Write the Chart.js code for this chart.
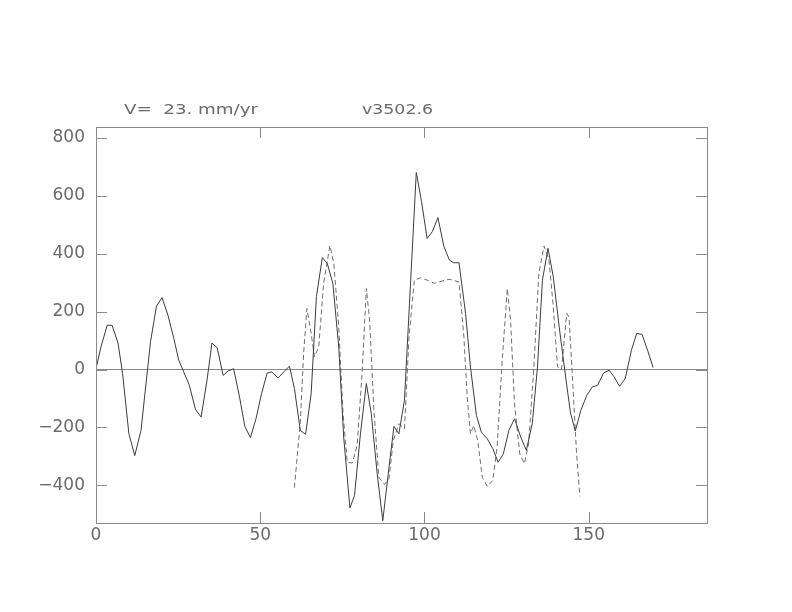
<!DOCTYPE html>
<html>
<head>
<meta charset="utf-8">
<script src="https://cdn.jsdelivr.net/npm/chart.js@4/dist/chart.umd.min.js"></script>
<style>
  html, body { margin: 0; padding: 0; background: #fff; }
  #wrap { width: 792px; height: 612px; }
</style>
</head>
<body>
<div id="wrap"><canvas id="profile" width="792" height="612"></canvas></div>
<script>
// titulos
const leftTitle = "V=  23. mm/yr";
const rightTitle = "v3502.6";

// perfil observado (linha cheia)
const obsX = [0, 1.5, 3.4, 4.9, 6.7, 8.1, 10, 11.8, 13.7, 15, 16.6, 18.4, 20.1, 21.9, 23.7, 25.2, 26.7, 28.4,
  30.3, 32, 33.8, 35.3, 36.9, 38.7, 40.2, 41.9, 43.7, 45.3, 47, 48.7, 50.4, 52.1, 53.6, 55.4, 57.2, 58.9,
  60.4, 62.2, 63.8, 65.5, 67.1, 68.9, 70.4, 72.1, 73.9, 75.4, 77.3, 78.7, 80.5, 82.3, 83.8, 85.6, 87.3,
  89.2, 90.7, 92.2, 93.9, 95.8, 97.5, 99.1, 100.8, 102.4, 104.1, 105.9, 107.6, 108.9, 110.5, 112.5, 114,
  115.8, 117.3, 119.1, 120.8, 122.4, 124, 125.7, 127.4, 129.3, 131, 132.8, 134.4, 135.9, 137.6, 139.2,
  141, 142.7, 144.4, 145.9, 147.6, 149.4, 151.1, 152.7, 154.5, 156.2, 157.7, 159.4, 161.1, 163, 164.6,
  166.2, 167.9, 169.6];
const obsY = [3, 78, 153, 153, 92, -14, -221, -297, -210, -72, 96, 219, 249, 188, 107, 32, -8, -54,
  -138, -164, -37, 92, 75, -20, -5, 3, -95, -196, -235, -170, -83, -12, -8, -29, -8, 12,
  -65, -210, -224, -83, 252, 387, 367, 298, 78, -233, -478, -435, -222, -48, -152, -360, -522,
  -337, -196, -222, -106, 309, 681, 580, 453, 477, 525, 425, 378, 369, 369, 194, 9,
  -158, -216, -239, -273, -320, -291, -210, -170, -233, -279, -187, 9, 309, 419, 321,
  148, -2, -147, -212, -141, -89, -60, -54, -12, -2, -25, -58, -31, 67, 125,
  122, 67, 7];

// perfil modelado (tracejado)
const modX = [60.4, 62.2, 63.2, 64.2, 65.5, 66.5, 67.8, 69.3, 71.2, 72.4, 73.9, 75.2, 76.5, 78, 79.5,
  81, 82.3, 83.3, 84.6, 86.1, 87.8, 89.2, 90.5, 92.2, 93.9, 95.3, 96.9, 98.8, 100.8, 103, 105.4,
  107.5, 110.5, 112, 113, 114, 115, 116.2, 117.6, 119.1, 120.8, 122.1, 123.6, 125.2, 126.2, 127.4,
  129, 130.4, 131.7, 133.3, 134.8, 136.4, 137.9, 139.2, 140.5, 141.7, 143.3, 144, 145.2, 146.3, 147.3];
const modY = [-408, -181, 55, 211, 125, 44, 78, 298, 428, 367, 148, -152, -320, -323, -262,
  -14, 280, 171, -141, -372, -397, -377, -245, -187, -204, 113, 309, 317, 309, 298, 306,
  312, 303, 113, -95, -222, -193, -245, -372, -404, -383, -268, 21, 280, 171, -118,
  -291, -325, -256, 9, 332, 427, 378, 217, 9, 0, 194, 182, -60, -291, -438];

const xTicks = [0, 50, 100, 150];
const yTicks = [-400, -200, 0, 200, 400, 600, 800];

const toPoints = (xs, ys) => xs.map((x, i) => ({ x: x, y: ys[i] }));

const axisGrey = "#8a8a8a";
const textGrey = "#6a6a6a";

// texto esticado na horizontal ate a largura pedida
const drawWide = function (ctx, text, x, y, width) {
  const w = ctx.measureText(text).width;
  ctx.save();
  ctx.translate(x, y);
  ctx.scale(width / w, 1);
  ctx.fillText(text, 0, 0);
  ctx.restore();
};

// marcas de escala para dentro + moldura + textos do topo
const framePlugin = {
  id: "frame",
  afterDraw(chart) {
    const { ctx, chartArea: a, scales } = chart;
    ctx.save();
    ctx.strokeStyle = axisGrey;
    ctx.lineWidth = 1;
    ctx.strokeRect(Math.round(a.left) + 0.5, Math.round(a.top) + 0.5,
      Math.round(a.right - a.left), Math.round(a.bottom - a.top));
    ctx.beginPath();
    xTicks.forEach((v) => {
      const px = Math.round(scales.x.getPixelForValue(v)) + 0.5;
      ctx.moveTo(px, a.bottom); ctx.lineTo(px, a.bottom - 11);
      ctx.moveTo(px, a.top); ctx.lineTo(px, a.top + 11);
    });
    yTicks.forEach((v) => {
      const py = Math.round(scales.y.getPixelForValue(v)) + 0.5;
      ctx.moveTo(a.left, py); ctx.lineTo(a.left + 11, py);
      ctx.moveTo(a.right, py); ctx.lineTo(a.right - 11, py);
    });
    ctx.stroke();
    ctx.fillStyle = textGrey;
    ctx.font = "14px 'DejaVu Sans'";
    ctx.textBaseline = "alphabetic";
    drawWide(ctx, leftTitle, 124, 114, 134);
    drawWide(ctx, rightTitle, 362, 114, 71);
    ctx.restore();
  },
};

const config = {
  type: "scatter",
  data: {
    datasets: [
      {
        label: "observado",
        data: toPoints(obsX, obsY),
        showLine: true,
        borderColor: "#3c3c3c",
        borderWidth: 1,
        pointRadius: 0,
        tension: 0,
      },
      {
        label: "modelo",
        data: toPoints(modX, modY),
        showLine: true,
        borderColor: "#6e6e6e",
        borderWidth: 1,
        borderDash: [5, 3],
        pointRadius: 0,
        tension: 0,
      },
    ],
  },
  options: {
    responsive: false,
    animation: false,
    layout: { padding: { left: 0, right: 85, top: 127, bottom: 39 } },
    plugins: { legend: { display: false }, tooltip: { enabled: false } },
    scales: {
      x: {
        type: "linear",
        min: 0,
        max: 186,
        afterBuildTicks: (s) => { s.ticks = xTicks.map((v) => ({ value: v })); },
        afterFit: (s) => { s.height = 50; },
        grid: { display: false, drawTicks: false },
        border: { display: false },
        ticks: {
          color: textGrey,
          padding: 2,
          font: { family: "DejaVu Sans", size: 17 },
        },
      },
      y: {
        min: -530,
        max: 838,
        afterBuildTicks: (s) => { s.ticks = yTicks.map((v) => ({ value: v })); },
        afterFit: (s) => { s.width = 96; },
        grid: {
          drawTicks: false,
          color: (c) => (c.tick && c.tick.value === 0 ? axisGrey : "rgba(0,0,0,0)"),
        },
        border: { display: false },
        ticks: {
          color: textGrey,
          padding: 11,
          font: { family: "DejaVu Sans", size: 17 },
          callback: (v) => (v < 0 ? "\u2212" + Math.abs(v) : String(v)),
        },
      },
    },
  },
  plugins: [framePlugin],
};

new Chart(document.getElementById("profile"), config);
</script>
</body>
</html>
